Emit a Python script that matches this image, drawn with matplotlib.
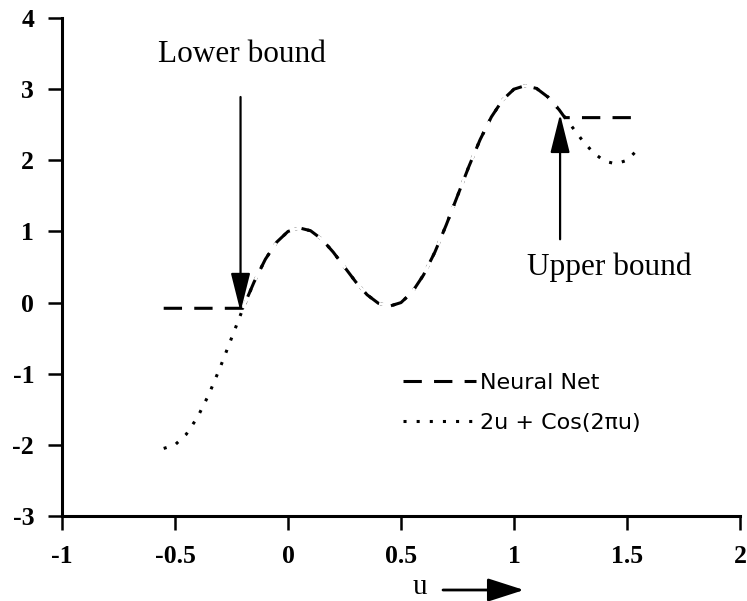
import matplotlib
matplotlib.use("Agg")
import matplotlib.pyplot as plt

# Target function 2u + cos(2*pi*u)
u_vals = [-0.55, -0.50, -0.45, -0.40, -0.35, -0.30, -0.25, -0.20, -0.15, -0.10,
          -0.05, 0.00, 0.05, 0.10, 0.15, 0.20, 0.25, 0.30, 0.35, 0.40,
          0.45, 0.50, 0.55, 0.60, 0.65, 0.70, 0.75, 0.80, 0.85, 0.90,
          0.95, 1.00, 1.05, 1.10, 1.15, 1.20, 1.25, 1.30, 1.35, 1.40,
          1.45, 1.50, 1.56]
f_vals = [-2.05, -2.00, -1.85, -1.61, -1.29, -0.91, -0.50, -0.09, 0.29, 0.61,
          0.85, 1.00, 1.05, 1.01, 0.89, 0.71, 0.50, 0.29, 0.11, -0.01,
          -0.05, 0.00, 0.15, 0.39, 0.71, 1.09, 1.50, 1.91, 2.29, 2.61,
          2.85, 3.00, 3.05, 3.01, 2.89, 2.71, 2.50, 2.29, 2.11, 1.99,
          1.95, 2.00, 2.19]

# Neural net output (clipped at lower/upper bounds)
nn_u = [-0.55, -0.20, -0.15, -0.10, -0.05, 0.00, 0.05, 0.10, 0.15, 0.20,
        0.25, 0.30, 0.35, 0.40, 0.45, 0.50, 0.55, 0.60, 0.65, 0.70,
        0.75, 0.80, 0.85, 0.90, 0.95, 1.00, 1.05, 1.10, 1.15, 1.20,
        1.225, 1.56]
nn_y = [-0.08, -0.08, 0.29, 0.61, 0.85, 1.00, 1.05, 1.01, 0.89, 0.71,
        0.50, 0.29, 0.11, -0.01, -0.05, 0.00, 0.15, 0.39, 0.71, 1.09,
        1.50, 1.91, 2.29, 2.61, 2.85, 3.00, 3.05, 3.01, 2.89, 2.71,
        2.60, 2.60]

x_ticks = [-1, -0.5, 0, 0.5, 1, 1.5, 2]
x_labels = ["-1", "-0.5", "0", "0.5", "1", "1.5", "2"]
y_ticks = [-3, -2, -1, 0, 1, 2, 3, 4]
y_labels = ["-3", "-2", "-1", "0", "1", "2", "3", "4"]

serif = "Liberation Serif"
sans = "DejaVu Sans"

fig = plt.figure(figsize=(7.47, 6.01), dpi=100)
ax = fig.add_axes([0.083, 0.1414, 0.9076, 0.8286])

lw = 2.2
ax.plot(u_vals, f_vals, color="black", lw=lw, linestyle=(0, (1, 3.3)),
        dash_capstyle="butt", label="2u + Cos(2\u03c0u)", zorder=2)
nn_line, = ax.plot(nn_u, nn_y, color="black", lw=lw, linestyle=(0, (6, 4.0)),
                   dash_capstyle="butt", label="Neural Net", zorder=3)
nn_line.set_gapcolor("white")

ax.set_xlim(-1, 2)
ax.set_ylim(-3, 4)
ax.set_xticks(x_ticks)
ax.set_xticklabels(x_labels)
ax.set_yticks(y_ticks)
ax.set_yticklabels(y_labels)
for s in ["top", "right"]:
    ax.spines[s].set_visible(False)
for s in ["left", "bottom"]:
    ax.spines[s].set_linewidth(2.2)
ax.tick_params(direction="out", length=10, width=1.8)
ax.tick_params(axis="y", pad=10)
ax.tick_params(axis="x", pad=11)
for lab in ax.get_xticklabels() + ax.get_yticklabels():
    lab.set_fontfamily(serif)
    lab.set_fontsize(18.5)
    lab.set_fontweight("bold")

arrow_kw = dict(arrowstyle="-|>,head_length=1.2,head_width=0.3",
                mutation_scale=20, lw=1.6, color="black",
                shrinkA=0, shrinkB=0)
ax.annotate("", xy=(-0.21, -0.13), xytext=(-0.21, 2.89), arrowprops=arrow_kw)
ax.text(-0.205, 3.49, "Lower bound", ha="center", va="center",
        fontsize=22.5, family=serif)
ax.annotate("", xy=(1.204, 2.65), xytext=(1.204, 0.89), arrowprops=arrow_kw)
ax.text(1.42, 0.49, "Upper bound", ha="center", va="center",
        fontsize=22.5, family=serif)

leg = ax.legend(handles=[nn_line, ax.lines[0]], loc="upper left",
                bbox_to_anchor=(0.49, 0.305), frameon=False,
                prop={"family": sans, "size": 16}, handlelength=3.3,
                handletextpad=0.15, labelspacing=0.9, borderaxespad=0)

fig.text(420 / 747, 1 - 594 / 601, "u", ha="center", va="baseline",
         fontsize=21, family=serif)
fig.patches.append(matplotlib.patches.FancyArrowPatch(
    (443 / 747, 1 - 590 / 601), (524 / 747, 1 - 590 / 601),
    transform=fig.transFigure, arrowstyle="-|>,head_length=1.4,head_width=0.45",
    mutation_scale=16, lw=2.0, color="black", shrinkA=0, shrinkB=0))

fig.savefig("out.png", dpi=100)
